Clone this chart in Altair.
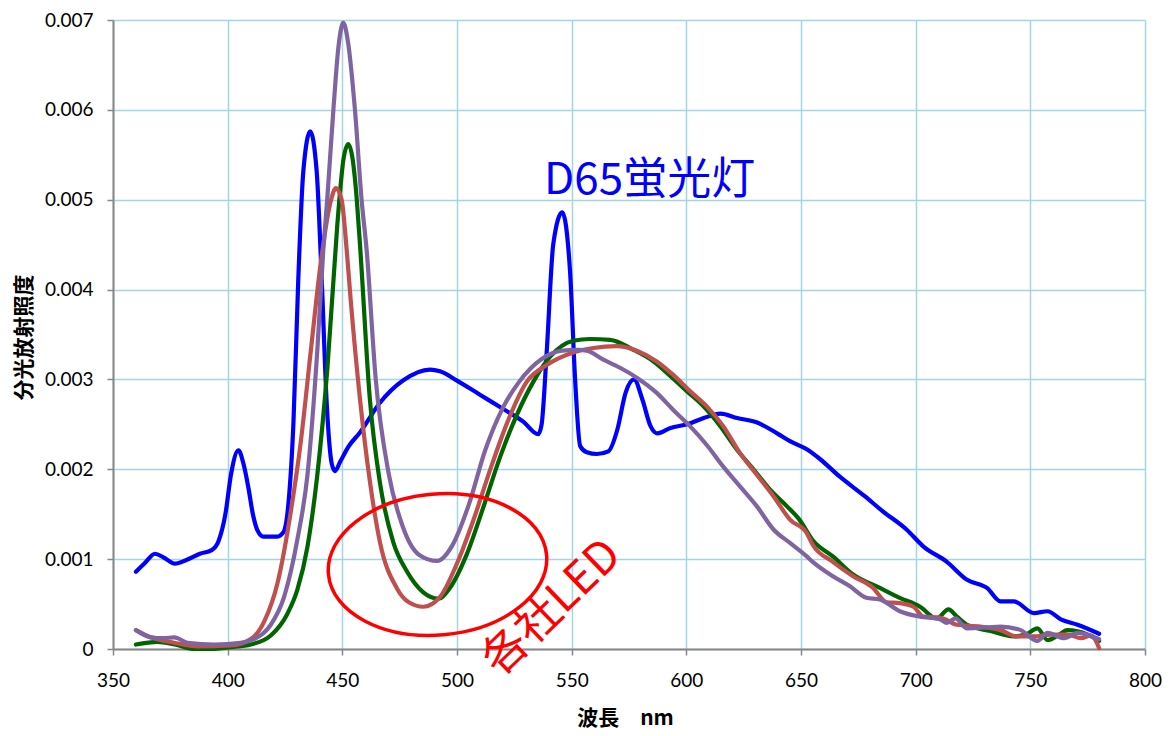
import altair as alt
import pandas as pd

# ---- data (wavelength nm, spectral irradiance in units of 0.001) ----
d65_nm = [360, 364, 368.3, 372, 377, 382, 387.9, 393, 396, 399, 401.5, 404.7, 407, 409, 411, 413,
          415.6, 421.4, 424.3, 426.5, 428.7, 430.8, 433, 436, 438.8, 441, 443.2, 445.4, 446.8, 449,
          452.6, 457.7, 466.4, 476.6, 488.2, 492.6, 499.8, 510, 520.2, 528.9, 535.4, 536.9, 539.1,
          542, 545.9, 549.3, 551.5, 553.7, 556.6, 561, 566, 569.9, 573.5, 577.2, 580.8, 584.4, 587.3,
          593.1, 600.4, 607.6, 614.9, 622.2, 630.9, 639.6, 645.4, 652.7, 658, 666.8, 677.8, 685.8,
          696, 703.4, 713.6, 722.4, 731.1, 737, 742.8, 751.6, 757.5, 763.3, 770.6, 780]
d65_val = [0.86, 0.96, 1.06, 1.02, 0.95, 0.99, 1.06, 1.10, 1.2, 1.5, 1.95, 2.21, 2.05, 1.8, 1.5, 1.32,
           1.25, 1.25, 1.30, 1.62, 2.53, 4.12, 5.32, 5.76, 5.32, 4.12, 2.73, 2.06, 1.98, 2.08,
           2.25, 2.41, 2.74, 2.99, 3.11, 3.09, 2.99, 2.83, 2.67, 2.53, 2.39, 2.50, 3.30,
           4.51, 4.86, 4.2, 3.0, 2.26, 2.19, 2.17, 2.20, 2.44, 2.85, 3.00, 2.78, 2.48, 2.40,
           2.46, 2.50, 2.57, 2.62, 2.57, 2.52, 2.40, 2.31, 2.22, 2.12, 1.92, 1.70, 1.53,
           1.33, 1.14, 0.97, 0.77, 0.68, 0.53, 0.53, 0.40, 0.42, 0.33, 0.27, 0.17]

led_a_nm = [360, 369.4, 377, 385.4, 393, 401.4, 410.1, 418.8, 426, 430.4, 434.8, 439.1, 443.5, 447.8,
            448.7, 450.5, 452.6, 454.5, 456.3, 457.7, 462, 466.4, 472.2, 478, 485.3, 491.8, 496.9,
            504.2, 511.4, 518.7, 526, 533.2, 540.5, 550.7, 558, 566.8, 576.9, 585.7, 593, 600.2,
            607.5, 614.8, 622, 629.3, 636.6, 643.8, 649.3, 655.1, 663.9, 672.7, 684.4, 693.1, 701.9,
            709.2, 714.3, 718, 722.4, 732.6, 742.8, 748, 753.1, 757.5, 762, 766.2, 775, 780]
led_a_val = [0.05, 0.08, 0.05, 0.0, 0.0, 0.02, 0.05, 0.15, 0.39, 0.66, 1.14, 1.94, 3.13, 4.72,
             5.0, 5.45, 5.62, 5.45, 5.0, 4.5, 2.78, 1.85, 1.19, 0.87, 0.63, 0.56, 0.68,
             1.05, 1.57, 2.13, 2.60, 2.97, 3.25, 3.43, 3.45, 3.44, 3.33, 3.20, 3.04, 2.87,
             2.70, 2.48, 2.22, 2.0, 1.77, 1.59, 1.44, 1.21, 1.03, 0.83, 0.68, 0.57, 0.47,
             0.34, 0.44, 0.36, 0.27, 0.20, 0.14, 0.16, 0.23, 0.10, 0.15, 0.21, 0.16, 0.09]

led_b_nm = [360, 366.5, 376.7, 386.9, 401.4, 410.1, 416, 421.8, 427.6, 432, 436.3, 440.7, 445.1,
            447.2, 449.7, 451.9, 453.6, 457.7, 462.1, 466.4, 473.7, 479, 485.3, 492.6, 499.8, 507.1,
            514.4, 521.6, 530.3, 539.1, 550.7, 559.5, 569.6, 578.4, 587.1, 594.3, 601.6, 608.9,
            616.1, 623.4, 630.7, 638, 645.2, 652.5, 655.1, 663.9, 672.7, 681.4, 687.3, 693.1, 699,
            703.4, 710.7, 718, 728.2, 737, 744.3, 751.6, 758.9, 766.2, 772.1, 776.5, 780]
led_b_val = [0.21, 0.13, 0.07, 0.03, 0.04, 0.11, 0.31, 0.74, 1.54, 2.33, 3.33, 4.32, 5.0,
             5.13, 5.0, 4.44, 3.9, 2.78, 1.85, 1.19, 0.68, 0.52, 0.47, 0.58, 0.94, 1.43,
             1.99, 2.50, 2.97, 3.16, 3.30, 3.35, 3.37, 3.32, 3.20, 3.05, 2.87, 2.70,
             2.48, 2.18, 1.94, 1.70, 1.44, 1.29, 1.16, 0.97, 0.81, 0.68, 0.52, 0.51, 0.47,
             0.36, 0.35, 0.27, 0.25, 0.21, 0.14, 0.14, 0.16, 0.16, 0.12, 0.15, 0.01]

led_c_nm = [360, 366.5, 372, 376.7, 382.5, 394.1, 405.7, 411.5, 418.8, 424.6, 430.4, 434.8, 439.1,
            441.7, 443.4, 446.1, 448.3, 450.4, 452.5, 455.5, 458.4, 460.6, 464.5, 470.3, 476.1,
            483.4, 491.4, 497.9, 505.2, 512.4, 519.7, 527, 537.1, 545.9, 553.1, 556.6, 563.8, 571.1,
            578.4, 587.1, 594.3, 601.6, 608.9, 616.1, 623.4, 630.7, 638, 645.2, 652.5, 655.1, 663.9,
            671.2, 678.5, 684.4, 693.1, 701.9, 710.7, 713.6, 717.3, 722.4, 731.1, 737, 745.8, 753.1,
            757.5, 764.8, 770.6, 780]
led_c_val = [0.21, 0.13, 0.12, 0.13, 0.07, 0.05, 0.07, 0.11, 0.27, 0.58, 1.22, 1.94, 3.33,
             4.44, 5.0, 6.0, 6.7, 6.97, 6.75, 6.0, 5.0, 4.44, 3.02, 1.94, 1.38,
             1.05, 0.98, 1.15, 1.61, 2.22, 2.67, 2.97, 3.23, 3.32, 3.33, 3.32, 3.22, 3.13,
             3.02, 2.85, 2.66, 2.48, 2.27, 2.03, 1.81, 1.59, 1.33, 1.18, 1.03, 0.97, 0.81,
             0.70, 0.57, 0.55, 0.42, 0.36, 0.33, 0.29, 0.34, 0.23, 0.24, 0.25, 0.21, 0.09,
             0.18, 0.12, 0.18, 0.11]

series_names = ["D65", "LED-A", "LED-B", "LED-C"]
series_colors = ["#0000FF", "#006400", "#C0504D", "#8064A2"]

x_ticks = [350, 400, 450, 500, 550, 600, 650, 700, 750, 800]
y_ticks = [0, 0.001, 0.002, 0.003, 0.004, 0.005, 0.006, 0.007]

rows = []
for name, nms, vals in [("D65", d65_nm, d65_val), ("LED-A", led_a_nm, led_a_val),
                        ("LED-B", led_b_nm, led_b_val), ("LED-C", led_c_nm, led_c_val)]:
    for i, (n, v) in enumerate(zip(nms, vals)):
        rows.append({"series": name, "nm": n, "val": v * 0.001, "order": i})
df = pd.DataFrame(rows)

# annotations (data coordinates)
label_d65 = pd.DataFrame({"nm": [584.0], "val": [0.00521], "t": ["D65蛍光灯"]})
label_led = pd.DataFrame({"nm": [541.4], "val": [0.00046], "t": ["各社LED"]})
ellipse_df = pd.DataFrame({"nm": [491.5], "val": [0.00094]})

grid_color = "#A5D5E3"
axis_color = "#878787"

x_enc = alt.X("nm:Q", scale=alt.Scale(domain=[350, 800], nice=False),
              axis=alt.Axis(values=x_ticks, title="波長　nm", format="d",
                            labelFont="Lato", labelFontSize=19, labelColor="#000000",
                            labelPadding=16, labelFlush=False, labelOverlap=False,
                            tickSize=6, tickColor=axis_color, tickWidth=1.5,
                            domainColor=axis_color, domainWidth=2,
                            grid=True, gridColor=grid_color, gridWidth=1.5,
                            titleFont="Noto Sans CJK JP", titleFontSize=21, titleFontWeight="bold",
                            titleColor="#000000", titleX=512, titleY=69,
                            titleBaseline="middle", titleAlign="center"))
y_enc = alt.Y("val:Q", scale=alt.Scale(domain=[0, 0.007], nice=False),
              axis=alt.Axis(values=y_ticks, title="分光放射照度",
                            labelExpr="datum.value == 0 ? '0' : format(datum.value, '.3f')",
                            labelFont="Lato", labelFontSize=19, labelColor="#000000",
                            labelPadding=14, labelFlush=False, labelOverlap=False,
                            tickSize=6, tickColor=axis_color, tickWidth=1.5,
                            domainColor=axis_color, domainWidth=2,
                            grid=True, gridColor=grid_color, gridWidth=1.5,
                            titleFont="Noto Sans CJK JP", titleFontSize=21, titleFontWeight="bold",
                            titleColor="#000000", titleX=-89, titleY=317,
                            titleBaseline="middle", titleAlign="center", titleAngle=270))

lines = alt.Chart(df).mark_line(strokeWidth=4.2, interpolate="monotone",
                                strokeCap="round", strokeJoin="round").encode(
    x=x_enc, y=y_enc,
    color=alt.Color("series:N", scale=alt.Scale(domain=series_names, range=series_colors),
                    legend=None),
    order="order:Q",
    detail="series:N",
)

k = 0.5523
b = 0.644
ell_path = (f"M 1 0 C 1 {k*b:.4f} {k:.4f} {b} 0 {b} "
            f"C {-k:.4f} {b} -1 {k*b:.4f} -1 0 "
            f"C -1 {-k*b:.4f} {-k:.4f} {-b} 0 {-b} "
            f"C {k:.4f} {-b} 1 {-k*b:.4f} 1 0 Z")
ellipse = alt.Chart(ellipse_df).mark_point(shape=ell_path, size=219 * 219, filled=False,
                                           stroke="#FF0000", strokeWidth=3.5, angle=355,
                                           opacity=1).encode(
    x=alt.X("nm:Q"), y=alt.Y("val:Q"))

txt_d65 = alt.Chart(label_d65).mark_text(font="Noto Sans CJK JP", fontSize=44, color="#0000FF",
                                         align="center", baseline="middle").encode(
    x="nm:Q", y="val:Q", text="t:N")
txt_led = alt.Chart(label_led).mark_text(font="Noto Sans CJK JP", fontSize=45, color="#FF0000",
                                         align="center", baseline="middle", angle=316).encode(
    x="nm:Q", y="val:Q", text="t:N")

chart = alt.layer(lines, ellipse, txt_d65, txt_led).properties(
    width=1032, height=629,
    padding={"left": 113, "top": 20, "right": 30, "bottom": 87},
    autosize=alt.AutoSizeParams(type="none"),
    background="#FFFFFF",
).configure_view(strokeWidth=0)

chart.save("out.html", embed_options={"renderer": "svg", "actions": False})
